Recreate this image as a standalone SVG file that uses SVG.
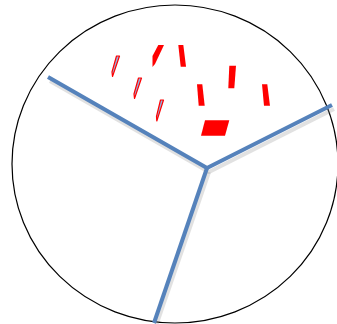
<svg xmlns="http://www.w3.org/2000/svg" width="337" height="324" viewBox="0 0 337 324">
<style>
.red{fill:#ff0000;stroke:none}
.sliver{fill:#8fb4e3;stroke:#ff0000;stroke-width:1.2;stroke-linejoin:round}
.edge{fill:none;stroke:#5582bb;stroke-width:4;stroke-linecap:butt;stroke-linejoin:round}
.shadow{fill:none;stroke:#888;stroke-opacity:0.25;stroke-width:4;stroke-linejoin:round}
</style>
<rect width="337" height="324" fill="#ffffff"/>
<g id="circle"><ellipse cx="175" cy="164" rx="163" ry="159" fill="none" stroke="#000" stroke-width="1.2"/></g>
<g id="connectors">
<polyline class="shadow" points="49,79 208,170 333,107" transform="translate(1,2)"/>
<line class="shadow" x1="208" y1="170" x2="155" y2="324" transform="translate(1,2)"/>
<polyline class="edge" points="48,77 207,168 332,105"/>
<line class="edge" x1="207" y1="168" x2="154" y2="323"/>
</g>
<g id="marks">
<polygon class="sliver" points="116.5,56 119.5,56 112.5,76.5 112,72"/>
<polygon class="sliver" points="138.5,78 141.5,78 134.5,98.5 134,94"/>
<polygon class="sliver" points="160.5,100 163.5,100 156.8,121 156.5,116.5"/>
<polygon class="red" points="152.5,56 158.3,45 164,45 155,64 152.5,67"/>
<polygon class="red" points="178.3,45 183.3,45 186,66.7 180.7,66.7"/>
<polygon class="red" points="229.3,65.7 236,65.7 234.3,88.3 228.3,88.3"/>
<polygon class="red" points="197,84.3 202.3,84.3 204.7,105.7 198.7,105.7"/>
<polygon class="red" points="262,84.3 267.3,84.3 270,105.7 264,105.7"/>
<polygon class="red" points="205,120.3 229.3,120.3 225,135.7 201,135.7"/>
</g>
</svg>
